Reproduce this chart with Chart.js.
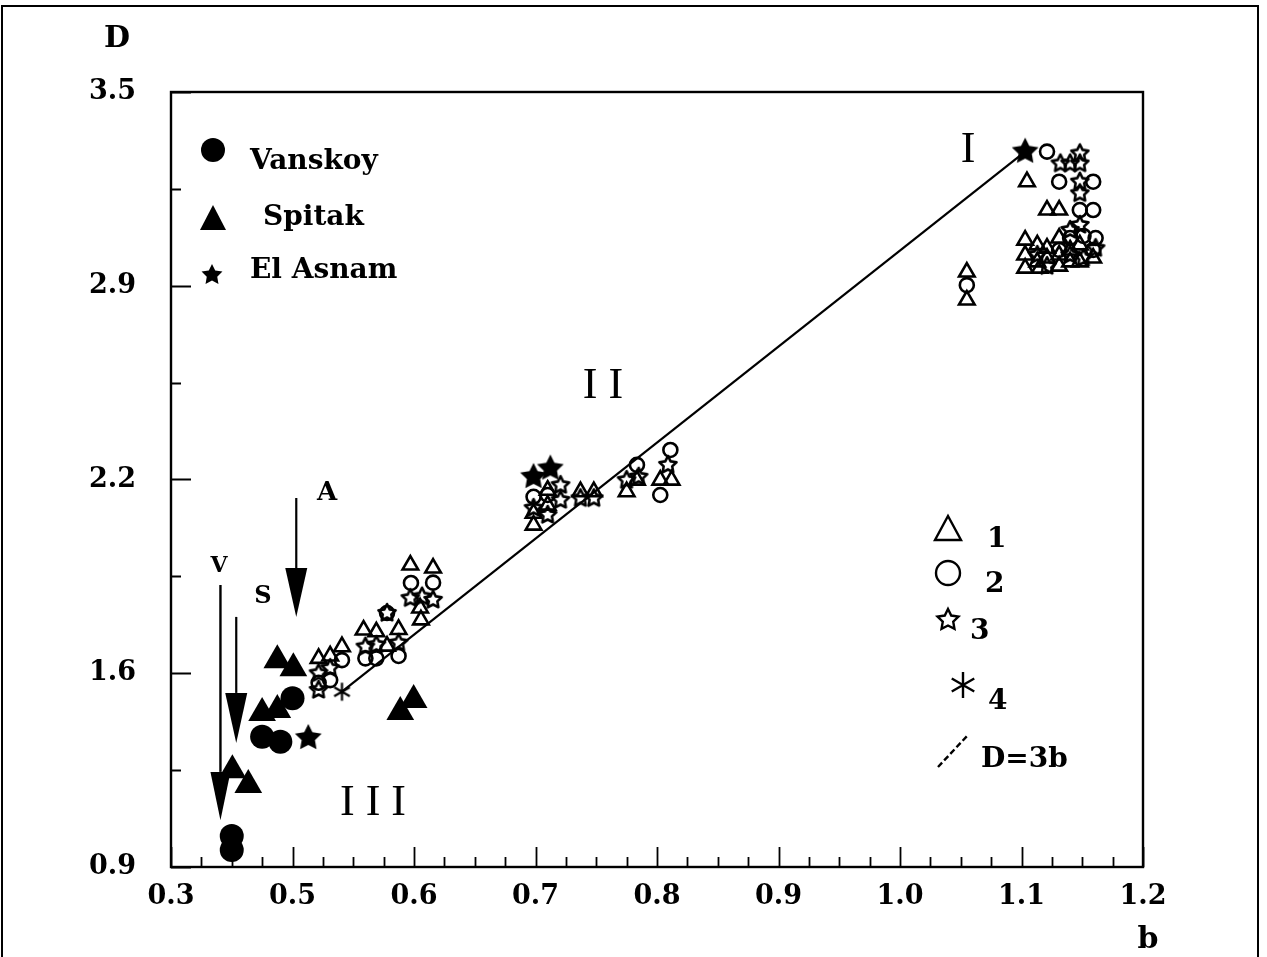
<!DOCTYPE html>
<html><head><meta charset="utf-8">
<script src="https://cdn.jsdelivr.net/npm/chart.js@4.4.1/dist/chart.umd.min.js"></script>
<style>html,body{margin:0;padding:0;background:#fff;overflow:hidden}</style>
</head><body><canvas id="c" width="1267" height="957"></canvas>
<script>
// ---- tick values / labels ----
const xTickValues = [0.4, 0.5, 0.6, 0.7, 0.8, 0.9, 1.0, 1.1, 1.2];
const xTickLabels = ['0.3', '0.5', '0.6', '0.7', '0.8', '0.9', '1.0', '1.1', '1.2'];
const xMinorStep = 0.025;
const yTickValues = [0.9, 1.55, 2.2, 2.85, 3.5];
const yTickLabels = ['0.9', '1.6', '2.2', '2.9', '3.5'];
const yMinorStep = 0.325;

// ---- series (b, D) ----
const vanskoyB = [0.500, 0.475, 0.490, 0.450, 0.450];
const vanskoyD = [1.466, 1.337, 1.320, 1.004, 0.957];

const spitakB = [0.4875, 0.5007, 0.475, 0.4875, 0.4505, 0.4636, 0.5887, 0.5997];
const spitakD = [1.594, 1.567, 1.417, 1.427, 1.225, 1.175, 1.420, 1.460];

const elAsnamB = [0.513, 0.6984, 0.7122, 1.103];
const elAsnamD = [1.333, 2.209, 2.237, 3.300];

const set1B = [0.5215, 0.531, 0.5407, 0.5585, 0.569, 0.5873, 0.5778,
  0.597, 0.6157, 0.605, 0.6057,
  0.6984, 0.6984, 0.710, 0.710, 0.737, 0.748, 0.775, 0.7835, 0.8027, 0.812,
  1.055, 1.055,
  1.1045, 1.121, 1.131, 1.103, 1.113, 1.121, 1.131, 1.103, 1.113, 1.121, 1.131,
  1.103, 1.115, 1.131, 1.140, 1.148, 1.159, 1.140, 1.148];
const set1D = [1.600, 1.608, 1.639, 1.695, 1.689, 1.697, 1.641,
  1.913, 1.903, 1.769, 1.729,
  2.047, 2.087, 2.114, 2.164, 2.159, 2.159, 2.159, 2.198, 2.198, 2.198,
  2.896, 2.802,
  3.199, 3.104, 3.104, 3.003, 2.987, 2.976, 3.010, 2.953, 2.930, 2.943, 2.953,
  2.909, 2.909, 2.916, 2.930, 2.930, 2.943, 2.970, 2.987];

const set2B = [0.5215, 0.531, 0.560, 0.569, 0.5873, 0.5407,
  0.5975, 0.6157, 0.5778,
  0.6984, 0.710, 0.7835, 0.8027, 0.811,
  1.055,
  1.121, 1.131, 1.148, 1.159, 1.140, 1.151, 1.161, 1.159, 1.159, 1.131];
const set2D = [1.518, 1.527, 1.600, 1.600, 1.608, 1.594,
  1.853, 1.854, 1.752,
  2.142, 2.148, 2.249, 2.148, 2.299,
  2.852,
  3.300, 3.199, 3.104, 3.104, 3.010, 3.017, 3.010, 3.199, 2.970, 2.970];

const set3B = [0.5215, 0.5215, 0.531, 0.560, 0.569, 0.5873,
  0.597, 0.6157, 0.6066, 0.5778,
  0.6984, 0.710, 0.7206, 0.7206, 0.737, 0.748, 0.775, 0.7849, 0.809,
  1.148, 1.132, 1.140, 1.148, 1.148, 1.148, 1.148, 1.140,
  1.113, 1.140, 1.151, 1.161, 1.121];
const set3D = [1.494, 1.550, 1.567, 1.639, 1.645, 1.652,
  1.802, 1.796, 1.807, 1.752,
  2.104, 2.081, 2.131, 2.181, 2.137, 2.137, 2.198, 2.209, 2.249,
  3.294, 3.260, 3.260, 3.260, 3.199, 3.160, 3.054, 3.037,
  2.953, 2.953, 2.943, 2.976, 2.916];

const set4B = [0.5407];
const set4D = [1.488];

const lineB = [0.5407, 1.103];
const lineD = [1.488, 3.300];

// ---- helpers ----
const zip = (bs, ds) => bs.map((b, i) => ({ x: b, y: ds[i] }));
const SERIF = '"DejaVu Serif", "Liberation Serif", serif';

function starPath(ctx, cx, cy, R, r) {
  ctx.beginPath();
  for (let i = 0; i < 10; i++) {
    const a = -Math.PI / 2 + i * Math.PI / 5;
    const rr = i % 2 === 0 ? R : r;
    const px = cx + Math.cos(a) * rr, py = cy + Math.sin(a) * rr;
    i === 0 ? ctx.moveTo(px, py) : ctx.lineTo(px, py);
  }
  ctx.closePath();
}
function starCanvas(R, filled, lw) {
  const s = Math.ceil(2 * R + 2 * lw + 4);
  const cv = document.createElement('canvas');
  cv.width = s; cv.height = s;
  const ctx = cv.getContext('2d');
  starPath(ctx, s / 2, s / 2, R, R * 0.5);
  if (filled) { ctx.fillStyle = '#000'; ctx.fill(); }
  else { ctx.lineWidth = lw; ctx.strokeStyle = '#000'; ctx.lineJoin = 'round'; ctx.stroke(); }
  return cv;
}
function asteriskPath(ctx, cx, cy, R) {
  ctx.beginPath();
  for (let k = 0; k < 3; k++) {
    const a = Math.PI / 2 + k * Math.PI / 3;
    ctx.moveTo(cx + Math.cos(a) * R, cy + Math.sin(a) * R);
    ctx.lineTo(cx - Math.cos(a) * R, cy - Math.sin(a) * R);
  }
}
function asteriskCanvas(R, lw) {
  const s = Math.ceil(2 * R + 2 * lw + 4);
  const cv = document.createElement('canvas');
  cv.width = s; cv.height = s;
  const ctx = cv.getContext('2d');
  asteriskPath(ctx, s / 2, s / 2, R);
  ctx.lineWidth = lw; ctx.strokeStyle = '#000'; ctx.stroke();
  return cv;
}
const filledStar = starCanvas(14, true, 0);
const legendStar = starCanvas(11, true, 0);
const openStar = starCanvas(9, false, 2.6);
const asterisk = asteriskCanvas(9, 2.2);

// ---- decorations plugin ----
const deco = {
  id: 'deco',
  beforeDraw(chart) {
    const ctx = chart.ctx;
    ctx.save();
    ctx.fillStyle = '#fff';
    ctx.fillRect(0, 0, chart.width, chart.height);
    ctx.strokeStyle = '#000'; ctx.lineWidth = 2;
    ctx.beginPath();
    ctx.moveTo(2, chart.height + 5); ctx.lineTo(2, 6); ctx.lineTo(1258, 6); ctx.lineTo(1258, chart.height + 5);
    ctx.stroke();
    ctx.restore();
  },
  afterDatasetsDraw(chart) {
    const ctx = chart.ctx, a = chart.chartArea;
    const xs = chart.scales.x, ys = chart.scales.y;
    const X = v => xs.getPixelForValue(v), Y = v => ys.getPixelForValue(v);
    ctx.save();
    // plot frame
    ctx.strokeStyle = '#000'; ctx.lineWidth = 2.4;
    ctx.strokeRect(a.left, a.top, a.right - a.left, a.bottom - a.top);
    // inward ticks
    ctx.lineWidth = 1.8;
    ctx.beginPath();
    for (let v = xs.min; v <= xs.max + 1e-9; v += xMinorStep) {
      const major = xTickValues.some(t => Math.abs(t - v) < 1e-6);
      const px = Math.round(X(v)) + 0.5;
      ctx.moveTo(px, a.bottom); ctx.lineTo(px, a.bottom - (major ? 20 : 10));
    }
    for (let v = ys.min; v <= ys.max + 1e-9; v += yMinorStep) {
      const major = yTickValues.some(t => Math.abs(t - v) < 1e-6);
      const py = Math.round(Y(v)) + 0.5;
      ctx.moveTo(a.left, py); ctx.lineTo(a.left + (major ? 20 : 10), py);
    }
    ctx.stroke();

    // arrows (b, D positions through scales)
    function arrow(b, dTop, dHead, dTip, halfW, lw) {
      const x = X(b);
      ctx.lineWidth = lw;
      ctx.beginPath(); ctx.moveTo(x, Y(dTop)); ctx.lineTo(x, Y(dHead)); ctx.stroke();
      ctx.beginPath();
      ctx.moveTo(x - halfW, Y(dHead)); ctx.lineTo(x + halfW, Y(dHead)); ctx.lineTo(x, Y(dTip)); ctx.closePath();
      ctx.fillStyle = '#000'; ctx.fill();
    }
    arrow(0.4407, 1.846, 1.219, 1.057, 10, 2.4);
    arrow(0.4537, 1.739, 1.484, 1.316, 11, 2.2);
    arrow(0.5031, 2.138, 1.903, 1.739, 11, 2.2);

    ctx.fillStyle = '#000';
    ctx.textAlign = 'center'; ctx.textBaseline = 'middle';
    ctx.font = 'bold 26px ' + SERIF;
    ctx.fillText('A', 327, 493);
    ctx.font = 'bold 22px ' + SERIF;
    ctx.fillText('V', 219, 566);
    ctx.font = 'bold 24px ' + SERIF;
    ctx.fillText('S', 263, 597);
    ctx.font = '44px "Liberation Serif", serif';
    ctx.fillText('I', 968, 150);
    ctx.fillText('I I', 603, 386);
    ctx.fillText('I I I', 373, 803);

    // axis titles
    ctx.font = 'bold 30px ' + SERIF;
    ctx.fillText('D', 117, 39);
    ctx.fillText('b', 1148, 940);

    // legend top-left
    ctx.beginPath(); ctx.arc(213, 150, 12, 0, Math.PI * 2); ctx.fill();
    ctx.beginPath(); ctx.moveTo(213, 205); ctx.lineTo(226, 230); ctx.lineTo(200, 230); ctx.closePath(); ctx.fill();
    ctx.drawImage(legendStar, 212 - legendStar.width / 2, 275 - legendStar.height / 2);
    ctx.textAlign = 'left';
    ctx.font = 'bold 28px ' + SERIF;
    ctx.fillText('Vanskoy', 250, 162);
    ctx.fillText('Spitak', 263, 218);
    ctx.fillText('El Asnam', 250, 271);

    // legend right
    ctx.lineWidth = 2.4; ctx.strokeStyle = '#000';
    ctx.beginPath(); ctx.moveTo(948, 516); ctx.lineTo(961, 540); ctx.lineTo(935, 540); ctx.closePath(); ctx.stroke();
    ctx.beginPath(); ctx.arc(948, 573, 12, 0, Math.PI * 2); ctx.stroke();
    starPath(ctx, 948, 620, 11, 5.5); ctx.stroke();
    asteriskPath(ctx, 963, 685, 13); ctx.stroke();
    ctx.setLineDash([6, 3]);
    ctx.beginPath(); ctx.moveTo(938, 767); ctx.lineTo(968, 735); ctx.stroke();
    ctx.setLineDash([]);
    ctx.font = 'bold 28px ' + SERIF;
    ctx.fillText('1', 987, 540);
    ctx.fillText('2', 985, 585);
    ctx.fillText('3', 970, 632);
    ctx.fillText('4', 988, 702);
    ctx.fillText('D=3b', 981, 760);
    ctx.restore();
  }
};

const openStyle = { borderColor: '#000', backgroundColor: 'rgba(0,0,0,0)', borderWidth: 2.6 };

new Chart(document.getElementById('c'), {
  type: 'scatter',
  data: {
    datasets: [
      { label: 'D=3b', type: 'line', data: zip(lineB, lineD), borderColor: '#000', borderWidth: 2.2, pointRadius: 0, fill: false, showLine: true, order: 10 },
      { label: '1', data: zip(set1B, set1D), pointStyle: 'triangle', pointRadius: 9, ...openStyle },
      { label: '2', data: zip(set2B, set2D), pointStyle: 'circle', pointRadius: 7, ...openStyle },
      { label: '3', data: zip(set3B, set3D), pointStyle: openStar },
      { label: '4', data: zip(set4B, set4D), pointStyle: asterisk },
      { label: 'Vanskoy', data: zip(vanskoyB, vanskoyD), pointStyle: 'circle', pointRadius: 12, backgroundColor: '#000', borderColor: '#000', borderWidth: 0 },
      { label: 'Spitak', data: zip(spitakB, spitakD), pointStyle: 'triangle', pointRadius: 16, backgroundColor: '#000', borderColor: '#000', borderWidth: 0 },
      { label: 'El Asnam', data: zip(elAsnamB, elAsnamD), pointStyle: filledStar }
    ]
  },
  options: {
    responsive: false,
    animation: false,
    events: [],
    layout: { padding: { left: 0, right: 124, top: 92, bottom: 0 } },
    plugins: { legend: { display: false }, tooltip: { enabled: false } },
    scales: {
      x: {
        type: 'linear', min: 0.4, max: 1.2,
        grid: { display: false }, border: { display: false },
        afterBuildTicks: s => { s.ticks = xTickValues.map(v => ({ value: v })); },
        afterFit: s => { s.height = 90; },
        ticks: { autoSkip: false, maxRotation: 0, padding: 6, color: '#000',
          font: { family: SERIF, size: 27, weight: 'bold' },
          callback: (v, i) => xTickLabels[i] }
      },
      y: {
        type: 'linear', min: 0.9, max: 3.5,
        grid: { display: false }, border: { display: false },
        afterBuildTicks: s => { s.ticks = yTickValues.map(v => ({ value: v })); },
        afterFit: s => { s.width = 171; },
        ticks: { autoSkip: false, padding: 27, color: '#000',
          font: { family: SERIF, size: 27, weight: 'bold' },
          callback: (v, i) => yTickLabels[i] }
      }
    }
  },
  plugins: [deco]
});
</script>
</body></html>
